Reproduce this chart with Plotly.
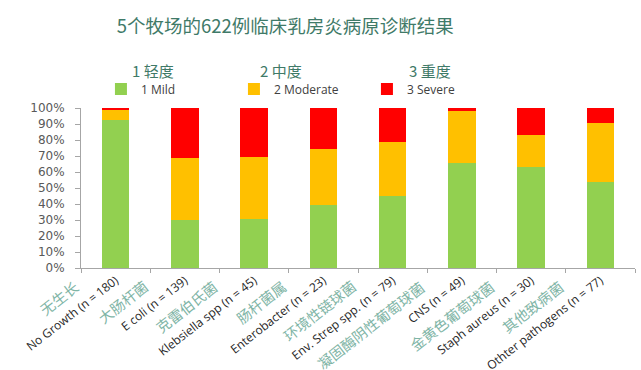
import plotly.graph_objects as go

categories_cn = ["无生长", "大肠杆菌", "克雷伯氏菌", "肠杆菌属", "环境性链球菌",
                 "凝固酶阴性葡萄球菌", "金黄色葡萄球菌", "其他致病菌"]
categories_en = ["No Growth (n = 180)", "E coli (n = 139)", "Klebsiella spp (n = 45)",
                 "Enterobacter (n = 23)", "Env. Strep spp. (n = 79)", "CNS (n = 49)",
                 "Staph aureus (n = 30)", "Othter pathogens (n = 77)"]
mild = [92.3, 30.0, 30.7, 39.4, 45.2, 65.4, 63.3, 53.9]
moderate = [6.3, 38.5, 38.4, 34.7, 33.3, 32.7, 20.1, 37.0]
severe = [1.4, 31.5, 30.9, 25.9, 21.5, 1.9, 16.6, 9.1]
series_names = ["1 Mild", "2 Moderate", "3 Severe"]
series_cn = ["1 轻度", "2 中度", "3 重度"]
y_ticks = [0, 10, 20, 30, 40, 50, 60, 70, 80, 90, 100]
y_ticklabels = [f"{v}%" for v in y_ticks]

colors = ["#92D050", "#FFC000", "#FF0000"]
CJK = "Noto Sans CJK SC"
LAT = "Open Sans"

fig = go.Figure()
for name, vals, c in zip(series_names, [mild, moderate, severe], colors):
    fig.add_trace(go.Bar(x=categories_en, y=vals, name=name, marker_color=c,
                         marker_line_width=0, width=0.4))

fig.update_layout(
    width=641, height=370,
    barmode="stack",
    plot_bgcolor="white", paper_bgcolor="white",
    margin=dict(l=81, r=6, t=108, b=102, autoexpand=False),
    font=dict(family=LAT, color="#404040"),
    title=dict(text="5个牧场的622例临床乳房炎病原诊断结果",
               font=dict(family=CJK, size=18.5, color="#3f7a68"),
               x=0.445, xanchor="center", xref="container",
               y=0.927, yanchor="middle", yref="container"),
    legend=dict(orientation="h", x=0.036, xanchor="left", y=1.119, yanchor="middle",
                entrywidth=88, entrywidthmode="pixels",
                font=dict(family=LAT, size=12, color="#404040"),
                traceorder="normal", bgcolor="rgba(0,0,0,0)"),
    xaxis=dict(tickmode="array", tickvals=categories_en, ticktext=categories_en,
               range=[-0.5, len(categories_en) - 0.5], autorange=False,
               tickangle=-38, tickson="boundaries", ticks="outside", ticklen=4,
               tickcolor="#a6a6a6", showline=True, linecolor="#a6a6a6", linewidth=1,
               tickfont=dict(family=LAT, size=12, color="#262626"),
               showgrid=False),
    yaxis=dict(range=[0, 100], autorange=False, tickmode="array", tickvals=y_ticks,
               ticktext=y_ticklabels, ticklabelstandoff=8,
               ticks="outside", ticklen=5, tickcolor="#a6a6a6", showline=True,
               linecolor="#a6a6a6", linewidth=1, showgrid=False, zeroline=False,
               tickfont=dict(family="DejaVu Sans", size=12, color="#595959")),
)

cn_x = [0.13, 0.361, 0.630]
for t, xp in zip(series_cn, cn_x):
    fig.add_annotation(text=t, xref="paper", yref="paper", x=xp, y=1.2375,
                       xanchor="center", yanchor="middle", showarrow=False,
                       font=dict(family=CJK, size=15, color="#3f7a68"))

for cat, cn in zip(categories_en, categories_cn):
    fig.add_annotation(text=cn, xref="x", yref="y", x=cat, y=0,
                       xanchor="right", yanchor="top", xshift=-30, yshift=-5,
                       textangle=-38, showarrow=False,
                       font=dict(family=CJK, size=14.5, color="#7fb5a6"))

fig.write_html("out.html", config={"displayModeBar": False},
               post_script="document.body.style.margin='0';")
